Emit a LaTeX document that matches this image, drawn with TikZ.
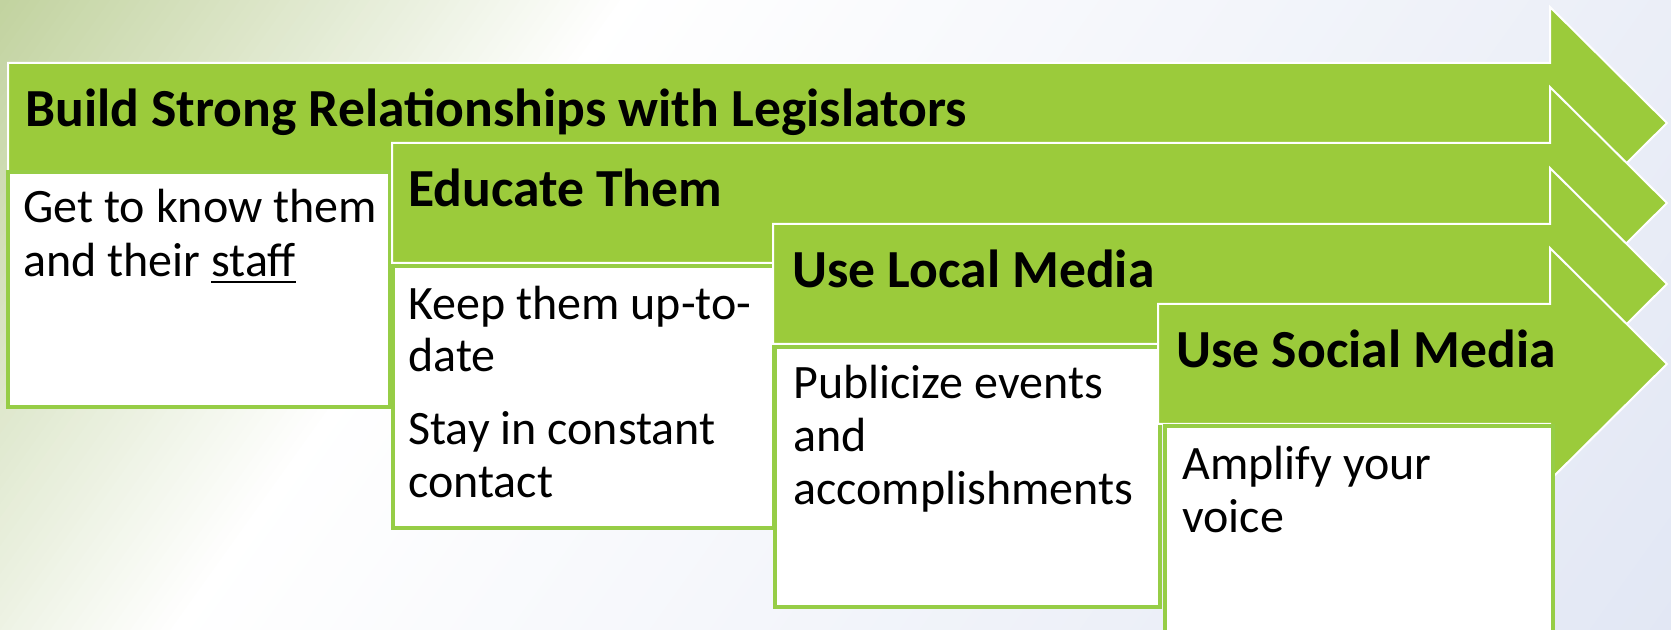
\documentclass[tikz,border=0pt]{standalone}
\usepackage{fontspec}
\setmainfont{Carlito}
\definecolor{arrowgreen}{RGB}{155,203,59}
\definecolor{boxgreen}{RGB}{150,205,70}
\definecolor{bgG}{RGB}{194,211,160}
\definecolor{bgB}{RGB}{226,231,244}
\newcommand\myul[1]{\setbox0\hbox{#1}\rlap{\rule[-3pt]{\wd0}{0.9pt}}\box0}
\tikzset{
  steparrow/.style={fill=arrowgreen, draw=white, line width=1pt, line join=miter},
  stepbox/.style={fill=white, draw=boxgreen, line width=1.8pt},
  steptitle/.style={anchor=base west, inner sep=0pt, font=\fontsize{26.8}{32}\selectfont\bfseries},
  stepbody/.style={anchor=base west, inner sep=0pt, font=\fontsize{24}{29}\selectfont},
}
\begin{document}
\begin{tikzpicture}[x=0.5pt,y=-0.5pt]
\useasboundingbox (0,0) rectangle (1671,630);
\clip (0,0) rectangle (1671,630);
% background: diagonal gradient drawn as stripes
\fill[white] (0,0) rectangle (1671,630);
\foreach \s in {0,10,...,610}{
  \pgfmathsetmacro\p{\s/620*100}
  \fill[white!\p!bgG] (\s,0) -- (\s+11,0) -- (\s-439,630) -- (\s-450,630) -- cycle;
}
\foreach \s in {620,630,...,2120}{
  \pgfmathsetmacro\p{(\s-620)/1501*100}
  \fill[bgB!\p!white] (\s,0) -- (\s+11,0) -- (\s-439,630) -- (\s-450,630) -- cycle;
}
% step 1
\path[steparrow] (8,63) -- (1550,63) -- (1550,7) -- (1667,123) -- (1550,239) -- (1550,183) -- (8,183) -- cycle;
\path[stepbox] (8,172) rectangle (390,407);
% step 2
\path[steparrow] (392,143) -- (1550,143) -- (1550,87) -- (1667,203) -- (1550,319) -- (1550,263) -- (392,263) -- cycle;
\path[stepbox] (393,266) rectangle (774,528);
% step 3
\path[steparrow] (773,224) -- (1550,224) -- (1550,168) -- (1667,284) -- (1550,400) -- (1550,344) -- (773,344) -- cycle;
\path[stepbox] (775,347) rectangle (1160,607);
% step 4
\path[steparrow] (1158,304) -- (1550,304) -- (1550,248) -- (1667,364) -- (1550,480) -- (1550,424) -- (1158,424) -- cycle;
\path[stepbox] (1165,426) rectangle (1553,660);
% titles
\node[steptitle] (t1) at (25,127) {Build Strong Relationships with Legislators};
\node[steptitle] (t2) at (408,207) {Educate Them};
\node[steptitle] (t3) at (792,288) {Use Local Media};
\node[steptitle] (t4) at (1176,368) {Use Social Media};
% bodies
\node[stepbody] (b1a) at (23,223) {Get to know them};
\node[stepbody] (b1b) at (23,277) {and their \myul{staff}};
\node[stepbody] (b2a) at (408,320) {Keep them up-to-};
\node[stepbody] (b2b) at (408,372) {date};
\node[stepbody] (b2c) at (408,445) {Stay in constant};
\node[stepbody] (b2d) at (408,498) {contact};
\node[stepbody] (b3a) at (793,399) {Publicize events};
\node[stepbody] (b3b) at (793,452) {and};
\node[stepbody] (b3c) at (793,505) {accomplishments};
\node[stepbody] (b4a) at (1182,480) {Amplify your};
\node[stepbody] (b4b) at (1182,532) {voice};
\end{tikzpicture}
\end{document}
